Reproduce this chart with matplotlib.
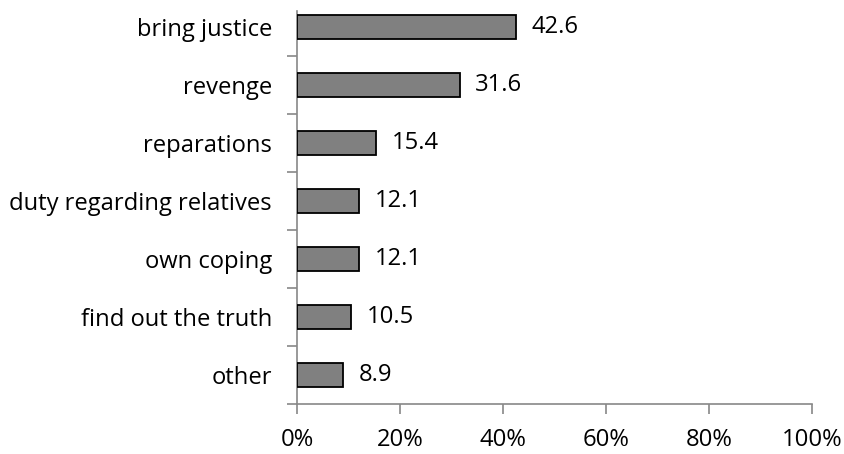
import matplotlib
matplotlib.use("Agg")
import matplotlib.pyplot as plt
import numpy as np

categories = ["bring justice", "revenge", "reparations", "duty regarding relatives",
              "own coping", "find out the truth", "other"]
values = [42.6, 31.6, 15.4, 12.1, 12.1, 10.5, 8.9]
xticks = [0, 20, 40, 60, 80, 100]
xticklabels = ["0%", "20%", "40%", "60%", "80%", "100%"]

plt.rcParams['font.family'] = ['Open Sans', 'DejaVu Sans']
FS = 17.1

fig = plt.figure(figsize=(8.45, 4.54), dpi=100)
W, H = 845, 454
left, right, bottom, top = 297, 812, 404, 11
ax = fig.add_axes([left / W, (H - bottom) / H, (right - left) / W, (bottom - top) / H])

n = len(categories)
ypos = np.arange(n)[::-1]
ax.barh(ypos, values, height=0.41, color="#808080", edgecolor="black", linewidth=1.3, zorder=3)
for y, v in zip(ypos, values):
    ax.text(v + 3.0, y, f"{v:.1f}", va="center", ha="left", fontsize=FS, color="black")

band = 58.0
ax.set_ylim(-0.5, n - 0.5 - (13 / band))
ax.set_xlim(0, 100)
ax.set_yticks(ypos)
ax.set_yticklabels(categories, fontsize=FS)
ax.set_yticks(np.arange(n) - 0.5, minor=True)
ax.tick_params(axis="y", which="major", length=0, pad=18)
ax.tick_params(axis="y", which="minor", length=7, color="#888888", width=1.2)
ax.set_xticks(xticks)
ax.set_xticklabels(xticklabels, fontsize=FS)
ax.tick_params(axis="x", length=7, color="#888888", width=1.2, pad=10)

for s in ["top", "right"]:
    ax.spines[s].set_visible(False)
for s in ["left", "bottom"]:
    ax.spines[s].set_color("#888888")
    ax.spines[s].set_linewidth(1.2)

fig.savefig("out.png", dpi=100)
